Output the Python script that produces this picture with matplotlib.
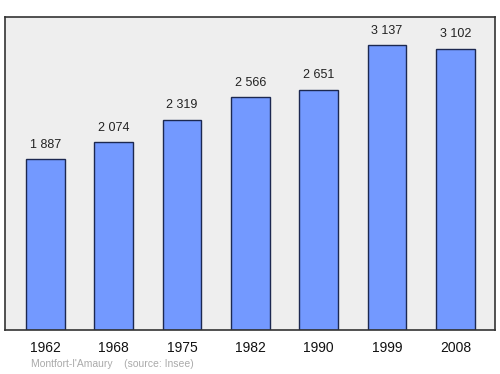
import matplotlib
matplotlib.use('Agg')
from matplotlib import pyplot as plt

years = ['1962', '1968', '1975', '1982', '1990', '1999', '2008']
population = [1887, 2074, 2319, 2566, 2651, 3137, 3102]
value_labels = ['1 887', '2 074', '2 319', '2 566', '2 651', '3 137', '3 102']
town = "Montfort-l'Amaury"
source = '(source: Insee)'

plt.rcParams['font.family'] = ['Liberation Sans', 'DejaVu Sans']

fig = plt.figure(figsize=(5, 3.74), dpi=100)
ax = fig.add_axes([0.01, 0.1176, 0.98, 0.837])
ax.set_facecolor('#eeeeee')

x = range(len(years))
bars = ax.bar(x, population, width=0.57, color='#7399ff', edgecolor='#1c2850', linewidth=1)

for bar, label in zip(bars, value_labels):
    ax.annotate(label, (bar.get_x() + bar.get_width() / 2, bar.get_height()),
                xytext=(0, 6), textcoords='offset points',
                ha='center', va='bottom', fontsize=9, color='#222222')

ax.set_xlim(-0.59, 6.58)
ax.set_ylim(0, max(population) * 1.1)
ax.set_xticks(list(x))
ax.set_xticklabels(years, fontsize=10, color='#111111')
ax.tick_params(axis='x', length=0, pad=8)
ax.set_yticks([])
for spine in ax.spines.values():
    spine.set_color('#333333')
    spine.set_linewidth(1.2)

fig.text(0.062, 0.026, town + '    ' + source, fontsize=7.5, color='#aaaaaa',
         ha='left', va='center')

fig.savefig('out.png', dpi=100)
